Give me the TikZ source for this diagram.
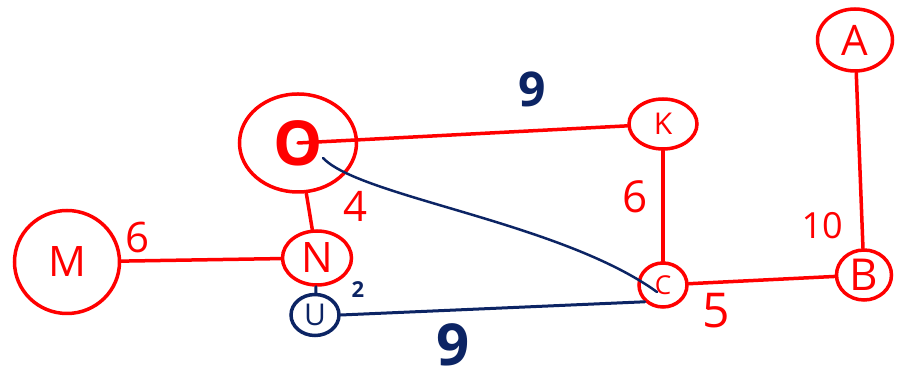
\documentclass[tikz,border=0pt]{standalone}
\usepackage{fontspec}
\setmainfont{Open Sans}
\usetikzlibrary{positioning,shapes.geometric}
\definecolor{navy}{RGB}{12,36,100}
\definecolor{pen}{RGB}{255,0,0}
\newcommand{\fsz}[1]{\fontsize{#1}{#1}\selectfont}

\begin{document}
\begin{tikzpicture}[x=1pt,y=1pt,on grid,line cap=round,
	vtx/.style={draw=pen,text=pen,ellipse,line width=3.5pt,inner sep=0pt},
	bvtx/.style={vtx,draw=navy,text=navy},
	redln/.style={draw=pen,line width=3.5pt},
	blueln/.style={draw=navy,line width=3pt},
	rlab/.style={text=pen,inner sep=0pt},
	blab/.style={text=navy,inner sep=0pt,font=\bfseries}]
	\useasboundingbox (0,0) rectangle (911,382);
	
	\node[vtx,minimum width=117pt,minimum height=98pt,font=\fsz{62}\bfseries] (O) at (298,239) {O};
	\node[vtx,minimum width=68pt,minimum height=50pt,font=\fsz{30}] (K) [above right=19pt and 365pt of O] {K};
	\node[vtx,minimum width=48pt,minimum height=44pt,font=\fsz{26}] (C) [below=161pt of K] {C};
	\node[vtx,minimum width=55pt,minimum height=50pt,font=\fsz{44}] (B) [above right=10pt and 201pt of C] {B};
	\node[vtx,minimum width=75pt,minimum height=62pt,font=\fsz{42}] (A) [above left=235pt and 9pt of B] {A};
	\node[vtx,minimum width=69pt,minimum height=54pt,font=\fsz{42}] (N) [below right=115pt and 19pt of O] {N};
	\node[vtx,minimum width=105pt,minimum height=103pt,font=\fsz{42}] (M) [below left=4pt and 250pt of N] {M};
	\node[bvtx,minimum width=48pt,minimum height=41pt,font=\fsz{30}] (U) [below left=57pt and 2pt of N] {U};
	
	\path[redln]
		(O.center) edge node[blab,pos=.71,yshift=41pt,font=\fsz{48}\bfseries] {9} (K)
		(O) edge node[rlab,pos=.36,xshift=47pt,font=\fsz{42}] {4} (N)
		(M) edge node[rlab,pos=.1,yshift=23pt,font=\fsz{42}] {6} (N)
		(K) edge node[rlab,pos=.42,xshift=-28pt,font=\fsz{44}] {6} (C)
		(C) edge node[rlab,pos=.19,yshift=-28pt,font=\fsz{48}] {5} (B)
		(A) edge node[rlab,pos=.87,xshift=-40pt,font=\fsz{36}] {10} (B);
	
	\path[blueln]
		(N) edge node[blab,xshift=42pt,font=\fsz{22}\bfseries] {2} (U)
		(U.east) edge node[blab,pos=.37,yshift=-35pt,font=\fsz{58}\bfseries] {9} (C.south west);
	\draw[blueln,line width=2.5pt] ([shift={(25pt,-15pt)}]O.center) .. controls ([shift={(62pt,-54pt)}]O.center) and ([shift={(-103pt,63pt)}]C.center) .. ([shift={(-6pt,-7pt)}]C.center);
\end{tikzpicture}
\end{document}
